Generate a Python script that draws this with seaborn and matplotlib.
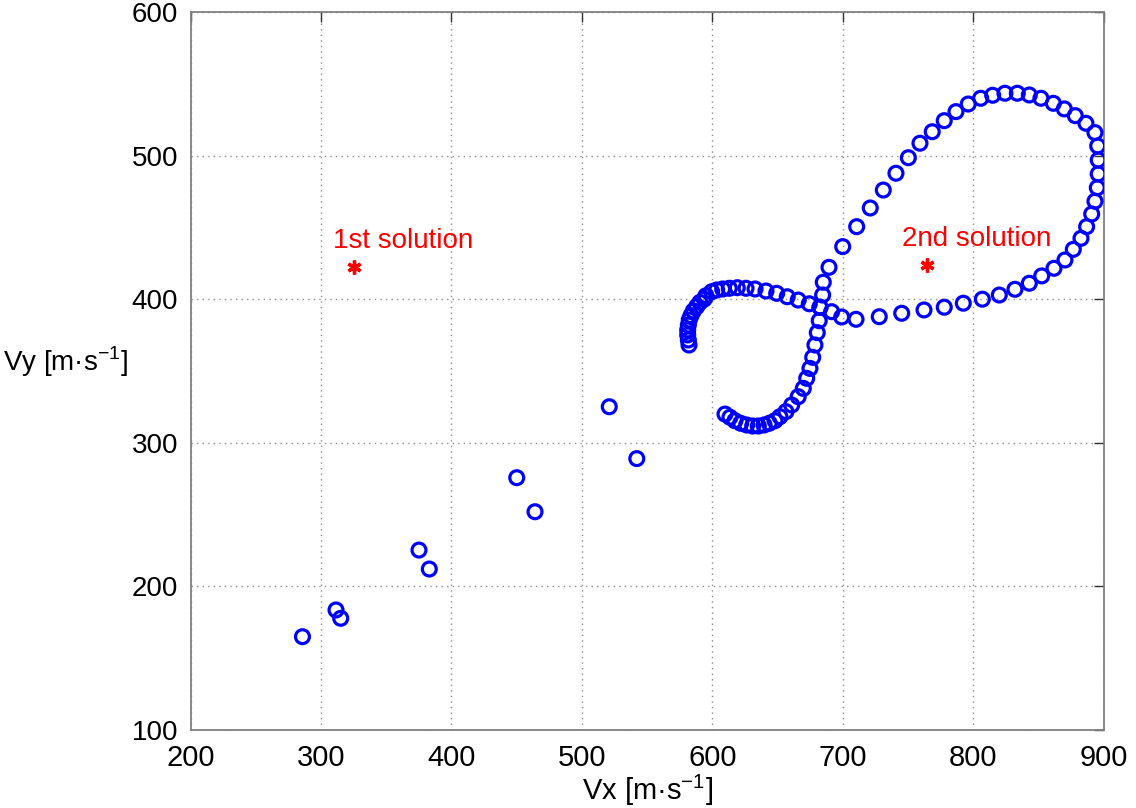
import matplotlib
matplotlib.use('Agg')
import matplotlib.pyplot as plt
import seaborn as sns
import pandas as pd

# velocity samples (m/s)
vx = [285.8, 311.5, 315.1, 375.1, 383.0, 450.0, 464.0, 520.9, 542.0,
      609.6, 613.4, 617.2, 621.6, 626.2, 630.8, 635.1, 639.5, 643.5, 647.9,
      651.7, 656.3, 660.7, 665.7, 669.6, 672.2, 674.7, 676.8, 678.5, 680.3,
      681.8, 682.4, 684.4, 684.9, 689.3,
      699.8, 710.5, 720.9, 730.9, 740.6, 750.1, 759.0, 768.4, 777.6, 786.6,
      796.0, 805.5, 814.7, 824.1, 833.6, 842.8, 851.7, 861.2, 869.6, 878.0,
      886.2, 893.1, 895.2, 895.6, 895.6, 894.9, 893.1, 890.6, 886.7, 882.4,
      876.5, 870.1, 861.7, 852.3, 842.8, 831.8, 819.8, 806.8, 792.2, 777.6,
      762.1, 745.0, 727.8, 710.0, 699.0, 691.3, 682.4, 674.2, 665.7, 657.3,
      649.2, 641.0, 632.6, 625.7, 619.0, 612.9, 607.8, 603.2, 599.4, 595.0,
      593.7, 590.4, 587.9, 585.3, 583.5, 582.2, 581.5, 581.0, 581.0, 581.5,
      582.0]
vy = [165.0, 183.6, 177.8, 225.3, 212.1, 275.7, 252.0, 325.1, 289.0,
      320.0, 317.8, 315.4, 313.6, 312.4, 311.7, 311.7, 312.4, 313.6, 315.4,
      318.2, 321.7, 326.3, 332.1, 337.9, 344.9, 351.8, 359.5, 368.1, 376.7,
      385.0, 394.4, 402.9, 411.8, 422.2,
      436.6, 450.5, 463.5, 476.0, 487.7, 498.5, 508.6, 516.6, 524.3, 530.6,
      535.9, 539.9, 542.0, 543.4, 543.4, 542.2, 539.9, 536.4, 532.5, 527.8,
      522.5, 516.0, 506.7, 496.9, 487.2, 477.6, 468.2, 459.3, 450.5, 442.4,
      434.7, 427.3, 421.5, 416.2, 411.1, 406.9, 402.9, 400.0, 397.2, 394.4,
      392.5, 390.2, 387.8, 386.0, 387.6, 391.3, 394.4, 396.8, 399.4, 401.7,
      404.1, 405.7, 407.1, 407.6, 408.0, 407.6, 407.1, 406.4, 405.2, 402.4,
      400.1, 397.8, 394.8, 391.8, 388.5, 385.5, 382.0, 378.6, 375.1, 371.6,
      368.1]

# the two solutions
sol_x = [325.3, 764.1]
sol_y = [422.4, 423.8]
sol_labels = ['1st solution', '2nd solution']

xticks = [200, 300, 400, 500, 600, 700, 800, 900]
yticks = [100, 200, 300, 400, 500, 600]

sns.set_style('white')
plt.rcParams['font.family'] = ['Liberation Sans', 'DejaVu Sans']
plt.rcParams['text.color'] = 'black'
plt.rcParams['axes.labelcolor'] = 'black'
plt.rcParams['xtick.color'] = 'black'
plt.rcParams['ytick.color'] = 'black'

df = pd.DataFrame({'vx': vx, 'vy': vy})
sol = pd.DataFrame({'vx': sol_x, 'vy': sol_y})

fig = plt.figure(figsize=(11.36, 8.08), dpi=100)
ax = fig.add_axes([0.1677, 0.0965, 0.8041, 0.8887])

sns.scatterplot(data=df, x='vx', y='vy', ax=ax, marker='o', s=100,
                color='blue', facecolor='none', edgecolor='blue',
                linewidth=2.3, zorder=3)
ax.plot(sol['vx'], sol['vy'], ls='none', marker=(6, 2, 0), markersize=10,
        mew=2.4, color='red', zorder=4)

for x, y, lab in zip(sol_x, sol_y, sol_labels):
    ax.text(x + 38, y + 18, lab, color='red', fontsize=20,
            ha='center', va='center')

ax.set_xlim(200, 900)
ax.set_ylim(100, 600)
ax.set_xticks(xticks)
ax.set_yticks(yticks)
ax.set_xticklabels([str(t) for t in xticks], fontsize=21)
ax.set_yticklabels([str(t) for t in yticks], fontsize=20)

ax.grid(True, ls=(0, (1, 3)), color='#8c8c8c', lw=1.0)
ax.set_axisbelow(True)
ax.tick_params(direction='in', length=7, width=1, color='#333333',
               top=True, right=True)
ax.tick_params(axis='x', pad=10)
ax.tick_params(axis='y', pad=9)
for sp in ax.spines.values():
    sp.set_color('#808080')
    sp.set_linewidth(1.3)

ax.set_xlabel('Vx [m·s$^{\\mathregular{-1}}$]', fontsize=21, va='center')
ax.xaxis.set_label_coords(0.5008, -0.084)
ax.set_ylabel('Vy [m·s$^{\\mathregular{-1}}$]', fontsize=20, rotation=0,
              ha='right', va='center')
ax.yaxis.set_label_coords(-0.068, 0.5125)

fig.savefig('out.png', dpi=100)
